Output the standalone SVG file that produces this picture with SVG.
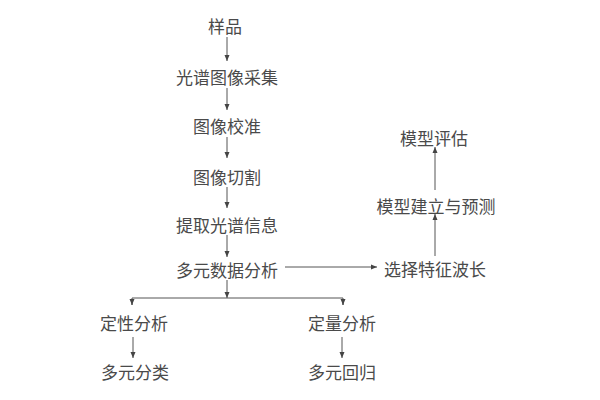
<svg xmlns="http://www.w3.org/2000/svg" width="600" height="400" viewBox="0 0 600 400">
<style>
text{font-family:"Noto Sans CJK SC","Noto Sans CJK JP",sans-serif;font-size:17px;fill:#4a4a4a;text-anchor:middle;dominant-baseline:central}
.c{stroke:#555;stroke-width:1;fill:none}
</style>
<defs>
<marker id="a" viewBox="0 0 6 6" refX="6" refY="3" markerWidth="6" markerHeight="6" orient="auto" markerUnits="userSpaceOnUse">
<path d="M0,0.5 L6,3 L0,5.5 Z" fill="#444"/>
</marker>
</defs>
<rect width="600" height="400" fill="#fff"/>
<g id="connectors">
<line class="c" x1="227" y1="37" x2="227" y2="61" marker-end="url(#a)"/>
<line class="c" x1="227" y1="88" x2="227" y2="110" marker-end="url(#a)"/>
<line class="c" x1="227" y1="137" x2="227" y2="158" marker-end="url(#a)"/>
<line class="c" x1="227" y1="187" x2="227" y2="208" marker-end="url(#a)"/>
<line class="c" x1="227" y1="235" x2="227" y2="257" marker-end="url(#a)"/>
<line class="c" x1="285" y1="267" x2="377" y2="267" marker-end="url(#a)"/>
<line class="c" x1="435" y1="256" x2="435" y2="214" marker-end="url(#a)"/>
<line class="c" x1="435" y1="190" x2="435" y2="147" marker-end="url(#a)"/>
<line class="c" x1="227" y1="280" x2="227" y2="298" marker-end="url(#a)"/>
<path class="c" d="M132,305 V298 H343 V305"/>
<line class="c" x1="132" y1="299" x2="132" y2="305" marker-end="url(#a)"/>
<line class="c" x1="343" y1="299" x2="343" y2="305" marker-end="url(#a)"/>
<line class="c" x1="133" y1="337" x2="133" y2="358" marker-end="url(#a)"/>
<line class="c" x1="342" y1="337" x2="342" y2="358" marker-end="url(#a)"/>
</g>
<g id="n1"><text x="225" y="25">样品</text></g>
<g id="n2"><text x="227" y="76">光谱图像采集</text></g>
<g id="n3"><text x="227" y="125">图像校准</text></g>
<g id="n4"><text x="227" y="176">图像切割</text></g>
<g id="n5"><text x="227" y="224">提取光谱信息</text></g>
<g id="n6"><text x="227" y="269">多元数据分析</text></g>
<g id="n7"><text x="435" y="268">选择特征波长</text></g>
<g id="n8"><text x="436" y="205">模型建立与预测</text></g>
<g id="n9"><text x="434" y="137">模型评估</text></g>
<g id="n10"><text x="134" y="322">定性分析</text></g>
<g id="n11"><text x="342" y="322">定量分析</text></g>
<g id="n12"><text x="135" y="371">多元分类</text></g>
<g id="n13"><text x="342" y="371">多元回归</text></g>
</svg>
